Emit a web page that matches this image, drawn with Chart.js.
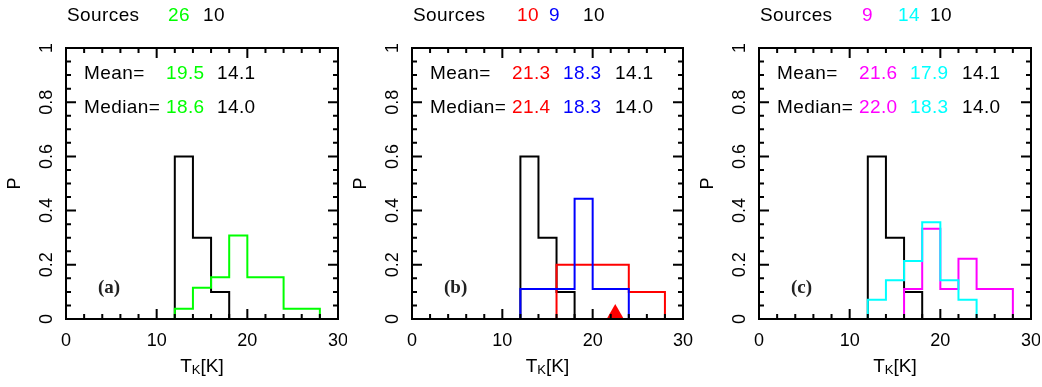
<!DOCTYPE html>
<html>
<head>
<meta charset="utf-8">
<script src="https://cdn.jsdelivr.net/npm/chart.js@4.4.1/dist/chart.umd.min.js"></script>
<style>
  body { margin: 0; background: #fff; width: 1042px; height: 387px; position: relative; overflow: hidden; }
  canvas { position: absolute; top: 0; }
</style>
</head>
<body>
<canvas id="panel-a" width="346" height="387" style="left:1px"></canvas>
<canvas id="panel-b" width="346" height="387" style="left:347px"></canvas>
<canvas id="panel-c" width="346" height="387" style="left:694px"></canvas>
<script>
// histogram bins: 2 K wide, starting at these temperatures
const binStarts = [0, 2, 4, 6, 8, 10, 12, 14, 16, 18, 20, 22, 24, 26, 28];
const binEnd = 30;

// fraction of sources per bin
const refP     = [0, 0, 0, 0, 0, 0, 0.6,   0.3,   0.1,   0,     0,     0,     0,     0,     0];
const greenP   = [0, 0, 0, 0, 0, 0, 0.038, 0.115, 0.154, 0.308, 0.154, 0.154, 0.038, 0.038, 0];
const redP     = [0, 0, 0, 0, 0, 0, 0,     0,     0.2,   0.2,   0.2,   0.2,   0.1,   0.1,   0];
const blueP    = [0, 0, 0, 0, 0, 0, 0.111, 0.111, 0.111, 0.444, 0.111, 0.111, 0,     0,     0];
const magentaP = [0, 0, 0, 0, 0, 0, 0,     0,     0.111, 0.333, 0.111, 0.222, 0.111, 0.111, 0];
const cyanP    = [0, 0, 0, 0, 0, 0, 0.071, 0.143, 0.214, 0.357, 0.143, 0.071, 0,     0,     0];

// red triangle marker in panel (b)
const markerX = [22.5];
const markerY = [0.018];

// numbers printed in each panel
const sourcesA = ['26', '10'];
const meanA    = ['19.5', '14.1'];
const medianA  = ['18.6', '14.0'];
const sourcesB = ['10', '9', '10'];
const meanB    = ['21.3', '18.3', '14.1'];
const medianB  = ['21.4', '18.3', '14.0'];
const sourcesC = ['9', '14', '10'];
const meanC    = ['21.6', '17.9', '14.1'];
const medianC  = ['22.0', '18.3', '14.0'];

const GREEN = '#00ff00', RED = '#ff0000', BLUE = '#0000ff', MAGENTA = '#ff00ff', CYAN = '#00ffff', BLACK = '#000000';
const FONT = "'Liberation Sans', Arial, sans-serif";

Chart.defaults.font.family = FONT;
Chart.defaults.font.size = 18;
Chart.defaults.color = '#000';

function stepPoints(vals) {
    const pts = binStarts.map((x, i) => ({x: x, y: vals[i]}));
    pts.push({x: binEnd, y: vals[vals.length - 1]});
    return pts;
}

function histSet(vals, color, order) {
    return {
        type: 'line',
        data: stepPoints(vals),
        stepped: true,
        borderColor: color,
        borderWidth: 2,
        pointRadius: 0,
        fill: false,
        order: order
    };
}

// box, inward ticks and the texts of each panel
const panelDecor = {
    id: 'panelDecor',
    afterDatasetsDraw(chart, args, opts) {
        const {ctx, chartArea: a, scales: {x, y}} = chart;
        ctx.save();
        ctx.strokeStyle = '#000';
        ctx.lineWidth = 2;
        ctx.strokeRect(a.left, a.top, a.width, a.height);
        ctx.beginPath();
        for (let v = 0; v <= 30; v += 2) {
            const px = x.getPixelForValue(v);
            const len = v % 10 === 0 ? 10 : 5;
            ctx.moveTo(px, a.bottom); ctx.lineTo(px, a.bottom - len);
            ctx.moveTo(px, a.top); ctx.lineTo(px, a.top + len);
        }
        for (let i = 0; i <= 20; i++) {
            const py = y.getPixelForValue(i * 0.05);
            const len = i % 4 === 0 ? 10 : 5;
            ctx.moveTo(a.left, py); ctx.lineTo(a.left + len, py);
            ctx.moveTo(a.right, py); ctx.lineTo(a.right - len, py);
        }
        ctx.stroke();

        ctx.textBaseline = 'alphabetic';
        ctx.textAlign = 'left';
        ctx.font = '19px ' + FONT;
        ctx.letterSpacing = '0.4px';

        // Sources row
        ctx.fillStyle = '#000';
        ctx.fillText('Sources', a.left + 1, 20.5);
        opts.sources.forEach((s, i) => {
            ctx.fillStyle = opts.colors[i];
            ctx.fillText(s, a.left + opts.sourceX[i], 20.5);
        });

        // Mean / Median rows
        const cols = opts.mean.length === 2 ? [100, 151] : [100, 151, 203];
        ctx.fillStyle = '#000';
        ctx.fillText('Mean=', a.left + 18, a.top + 30.5);
        ctx.fillText('Median=', a.left + 18, a.top + 65);
        opts.mean.forEach((s, i) => {
            ctx.fillStyle = opts.colors[i];
            ctx.fillText(s, a.left + cols[i], a.top + 30.5);
            ctx.fillText(opts.median[i], a.left + cols[i], a.top + 65);
        });
        ctx.letterSpacing = '0px';

        // panel letter
        ctx.fillStyle = '#222';
        ctx.font = "bold 19px 'Liberation Serif', 'Times New Roman', serif";
        ctx.fillText(opts.label, a.left + 32, a.bottom - 26);

        // x title T_K[K]
        ctx.fillStyle = '#000';
        ctx.font = '19px ' + FONT;
        const wT = ctx.measureText('T').width;
        const wB = ctx.measureText('[K]').width;
        ctx.font = '13px ' + FONT;
        const wK = ctx.measureText('K').width;
        const cx = (a.left + a.right) / 2;
        let tx = cx - (wT + wK + wB) / 2;
        ctx.font = '19px ' + FONT;
        ctx.fillText('T', tx, 372);
        tx += wT;
        ctx.font = '13px ' + FONT;
        ctx.fillText('K', tx, 374);
        tx += wK;
        ctx.font = '19px ' + FONT;
        ctx.fillText('[K]', tx, 372);
        ctx.restore();
    }
};

function makePanel(id, datasets, decor) {
    new Chart(document.getElementById(id), {
        type: 'line',
        data: {datasets: datasets},
        options: {
            responsive: false,
            animation: false,
            layout: {padding: {top: 48, right: 9, left: 0, bottom: 0}},
            plugins: {
                legend: {display: false},
                tooltip: {enabled: false},
                panelDecor: decor
            },
            scales: {
                x: {
                    type: 'linear', min: 0, max: 30,
                    grid: {display: false, drawTicks: false},
                    border: {display: false},
                    ticks: {stepSize: 10, padding: 11, maxRotation: 0},
                    afterFit(s) { s.height = 68; s.paddingLeft = 0; s.paddingRight = 0; }
                },
                y: {
                    type: 'linear', min: 0, max: 1,
                    grid: {display: false, drawTicks: false},
                    border: {display: false},
                    ticks: {
                        stepSize: 0.2, padding: 6, minRotation: 90, maxRotation: 90, crossAlign: 'center',
                        callback: v => String(Math.round(v * 10) / 10)
                    },
                    title: {display: true, text: 'P', padding: {top: 3, bottom: 0}},
                    afterFit(s) { s.width = 65; s.paddingTop = 0; s.paddingBottom = 0; }
                }
            }
        },
        plugins: [panelDecor]
    });
}

makePanel('panel-a', [
    histSet(refP, BLACK, 3),
    histSet(greenP, GREEN, 1)
], {label: '(a)', sources: sourcesA, sourceX: [102, 137], mean: meanA, median: medianA, colors: [GREEN, BLACK]});

makePanel('panel-b', [
    histSet(refP, BLACK, 4),
    histSet(redP, RED, 3),
    histSet(blueP, BLUE, 2),
    {
        type: 'scatter',
        data: markerX.map((x, i) => ({x: x, y: markerY[i]})),
        pointStyle: 'triangle',
        pointRadius: 10,
        backgroundColor: RED,
        borderWidth: 0,
        order: 1
    }
], {label: '(b)', sources: sourcesB, sourceX: [105, 137, 171], mean: meanB, median: medianB, colors: [RED, BLUE, BLACK]});

makePanel('panel-c', [
    histSet(refP, BLACK, 4),
    histSet(magentaP, MAGENTA, 3),
    histSet(cyanP, CYAN, 2)
], {label: '(c)', sources: sourcesC, sourceX: [103, 139, 171], mean: meanC, median: medianC, colors: [MAGENTA, CYAN, BLACK]});
</script>
</body>
</html>
